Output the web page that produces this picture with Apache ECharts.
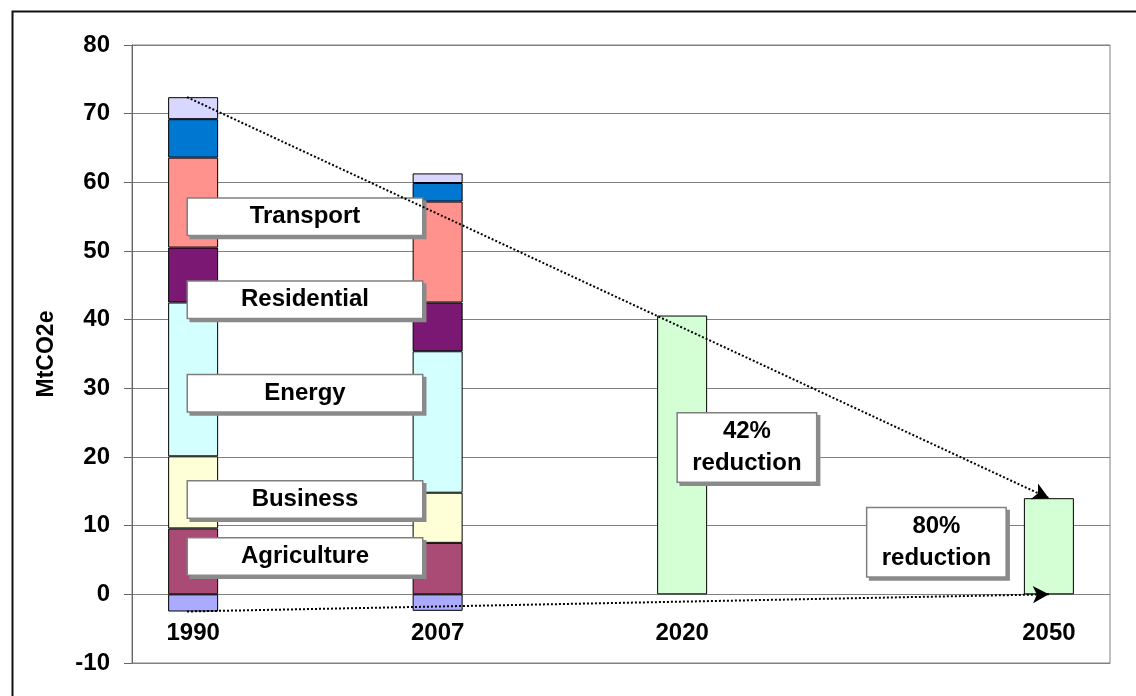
<!DOCTYPE html>
<html>
<head>
<meta charset="utf-8">
<script src="https://cdn.jsdelivr.net/npm/echarts@6/dist/echarts.min.js"></script>
<style>
html,body{margin:0;padding:0;background:#fff;}
#chart{width:1136px;height:696px;}
</style>
</head>
<body>
<div id="chart"></div>
<script>
// ---- data ----
var categories = ['1990', '', '2007', '', '2020', '', '', '2050'];
var landUse     = [-2.5, null, -2.4, null, null, null, null, null];
var agriculture = [9.6,  null, 7.5,  null, null, null, null, null];
var business    = [10.5, null, 7.3,  null, null, null, null, null];
var energy      = [22.4, null, 20.6, null, null, null, null, null];
var residential = [8.0,  null, 7.1,  null, null, null, null, null];
var transport   = [13.1, null, 14.7, null, null, null, null, null];
var otherA      = [5.6,  null, 2.7,  null, null, null, null, null];
var otherB      = [3.2,  null, 1.4,  null, null, null, null, null];
var target      = [null, null, null, null, 40.6, null, null, 14.0];
var yTicks = [-10, 0, 10, 20, 30, 40, 50, 60, 70, 80];

var sectorLabels = ['Transport', 'Residential', 'Energy', 'Business', 'Agriculture'];
var sectorLabelY = [55.0, 42.9, 29.3, 13.8, 5.5];
var sectorLabelX = 0.915;
var reductionLabels = ['42%\nreduction', '80%\nreduction'];
var reductionLabelX = [4.53, 6.08];
var reductionLabelY = [21.4, 7.6];

// ---- build ----
var FONT = 'Liberation Sans';
function total(i) {
  return agriculture[i] + business[i] + energy[i] + residential[i] + transport[i] + otherA[i] + otherB[i];
}
var startX = -0.05;
var endX = categories.indexOf('2050');

function barSeries(name, data, color) {
  return {
    name: name, type: 'bar', stack: 'all', data: data, barWidth: 50,
    itemStyle: { color: color, borderColor: '#000', borderWidth: 1 },
    z: 2
  };
}

var boxLabel = {
  show: true, position: 'inside', formatter: '{b}', opacity: 1,
  color: '#000', fontWeight: 'bold', fontSize: 24, fontFamily: FONT,
  backgroundColor: '#fff', borderColor: '#7f7f7f', borderWidth: 1.5,
  shadowColor: '#8a8a8a', shadowOffsetX: 3, shadowOffsetY: 3, shadowBlur: 0,
  align: 'center', verticalAlign: 'middle'
};

var option = {
  animation: false,
  backgroundColor: '#fff',
  grid: { left: 132, top: 45, right: 26, bottom: 33, containLabel: false, outerBoundsMode: 'none',
          show: true, borderColor: '#808080', borderWidth: 1, backgroundColor: 'transparent' },
  xAxis: [{
    type: 'category', data: categories, boundaryGap: true,
    axisLine: { onZero: false, lineStyle: { color: '#808080' } },
    axisTick: { show: false },
    axisLabel: { interval: 0, margin: -42, color: '#000', fontWeight: 'bold', fontSize: 24, fontFamily: FONT },
    splitLine: { show: false }
  }, {
    type: 'value', min: -0.5, max: 7.5, show: false, axisLine: { onZero: false }, splitLine: { show: false }
  }],
  yAxis: {
    type: 'value', min: yTicks[0], max: yTicks[yTicks.length - 1], interval: 10,
    name: 'MtCO2e', nameLocation: 'middle', nameGap: 74,
    nameTextStyle: { color: '#000', fontWeight: 'bold', fontSize: 23, fontFamily: FONT },
    axisLine: { show: true, onZero: false, lineStyle: { color: '#666' } },
    axisTick: { show: true, inside: false, length: 8, lineStyle: { color: '#666' } },
    axisLabel: { margin: 22, color: '#000', fontWeight: 'bold', fontSize: 24, fontFamily: FONT },
    splitLine: { show: true, lineStyle: { color: '#808080', width: 1 } }
  },
  series: [
    barSeries('Land use', landUse, '#aaaaff'),
    barSeries('Agriculture', agriculture, '#a94b74'),
    barSeries('Business', business, '#ffffd7'),
    barSeries('Energy', energy, '#d4ffff'),
    barSeries('Residential', residential, '#7a1873'),
    barSeries('Transport', transport, '#ff928c'),
    barSeries('Other A', otherA, '#0078d2'),
    barSeries('Other B', otherB, '#d7d7ff'),
    barSeries('Target', target, '#d4ffd4'),
    {
      name: 'sectorLabels', type: 'scatter', xAxisIndex: 1, symbolSize: 1,
      itemStyle: { color: 'transparent', opacity: 1 }, z: 3, silent: true,
      label: Object.assign({}, boxLabel, { width: 234, lineHeight: 24, padding: [6, 0] }),
      data: sectorLabels.map(function (n, i) { return { name: n, value: [sectorLabelX, sectorLabelY[i]] }; })
    },
    {
      name: 'reductionLabels', type: 'scatter', xAxisIndex: 1, symbolSize: 1,
      itemStyle: { color: 'transparent', opacity: 1 }, z: 3, silent: true,
      label: Object.assign({}, boxLabel, { width: 138, lineHeight: 32, padding: [2, 0] }),
      data: reductionLabels.map(function (n, i) { return { name: n, value: [reductionLabelX[i], reductionLabelY[i]] }; })
    },
    {
      name: 'arrows', type: 'line', xAxisIndex: 1, data: [], z: 6,
      markLine: {
        silent: true, animation: false, symbol: ['none', 'arrow'], symbolSize: [13, 16],
        label: { show: false },
        lineStyle: { color: '#000', type: [2, 2], width: 2 },
        data: [
          [{ coord: [startX, total(0)] }, { coord: [endX, target[endX]] }],
          [{ coord: [startX, landUse[0]] }, { coord: [endX, 0] }]
        ]
      }
    }
  ],
  graphic: [{
    type: 'rect', left: 10, top: 9, z: 100, silent: true,
    shape: { width: 1140, height: 700 },
    style: { fill: 'none', stroke: '#111', lineWidth: 2 }
  }]
};

var chart = echarts.init(document.getElementById('chart'));
chart.setOption(option);
</script>
</body>
</html>
